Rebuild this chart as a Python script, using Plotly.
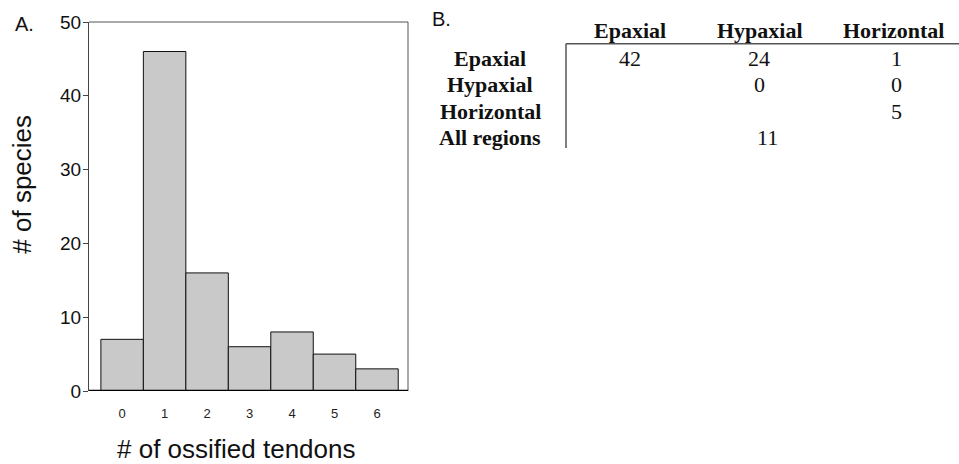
import plotly.graph_objects as go

# ---- data ----
tendon_counts = [0, 1, 2, 3, 4, 5, 6]
species_counts = [7, 46, 16, 6, 8, 5, 3]

col_headers = ["Epaxial", "Hypaxial", "Horizontal"]
row_labels = ["Epaxial", "Hypaxial", "Horizontal", "All regions"]
table_values = [
    ["42", "24", "1"],
    ["", "0", "0"],
    ["", "", "5"],
    ["", "11", ""],
]

# ---- layout geometry (pixels) ----
W, H = 959, 464
L, R, T, B = 89, 408, 19, 391  # plot area


def px(x):
    return (x - L) / (R - L)


def py(y):
    return (B - y) / (B - T)


SANS = "Liberation Sans, Arial, sans-serif"
SERIF = "Liberation Serif, Times New Roman, serif"

fig = go.Figure()
fig.add_trace(go.Bar(
    x=tendon_counts, y=species_counts, width=1,
    marker=dict(color="#c9c9c9", line=dict(color="#111111", width=1)),
    showlegend=False,
))

fig.update_layout(
    width=W, height=H,
    margin=dict(l=L, r=W - R, t=T, b=H - B, pad=0),
    plot_bgcolor="white", paper_bgcolor="white",
    xaxis=dict(range=[-0.78, 6.73], tickvals=tendon_counts,
               ticks="", showline=False, showgrid=False, zeroline=False,
               tickfont=dict(family=SANS, size=13, color="#222"),
               ticklabelstandoff=13),
    yaxis=dict(range=[0, 50], tickvals=[0, 10, 20, 30, 40, 50],
               ticks="outside", ticklen=5, tickcolor="#444", tickwidth=1,
               showline=True, linecolor="#444", linewidth=1,
               showgrid=False, zeroline=False,
               tickfont=dict(family=SANS, size=19, color="#111"),
               ticklabelstandoff=-2),
)

shapes = []
# frame top & right (thin grey)
shapes.append(dict(type="line", xref="paper", yref="paper", x0=0, x1=1, y0=1, y1=1,
                   line=dict(color="#555", width=1)))
shapes.append(dict(type="line", xref="paper", yref="paper", x0=1, x1=1, y0=0, y1=1,
                   line=dict(color="#555", width=1)))
# thick baseline
shapes.append(dict(type="line", xref="paper", yref="y", x0=0, x1=1, y0=0, y1=0,
                   line=dict(color="#000", width=2.5)))
# table lines
shapes.append(dict(type="line", xref="paper", yref="paper", x0=px(566), x1=px(959),
                   y0=py(41), y1=py(41), line=dict(color="#555", width=1.5)))
shapes.append(dict(type="line", xref="paper", yref="paper", x0=px(566), x1=px(566),
                   y0=py(41), y1=py(146), line=dict(color="#555", width=1.5)))

annotations = []


def text(x, y, s, size, family, color="#111", weight="normal", angle=0, xanchor="center"):
    annotations.append(dict(x=px(x), y=py(y), xref="paper", yref="paper", text=s,
                            showarrow=False, xanchor=xanchor, yanchor="middle",
                            textangle=angle,
                            font=dict(family=family, size=size, color=color, weight=weight)))


text(24, 21, "A.", 20, SANS)
text(236, 449, "# of ossified tendons", 26, SANS)
text(22, 183, "# of species", 26, SANS, angle=-90)

text(441, 16, "B.", 20, SANS)

col_x = [630, 760, 893]
col_val_x = [630, 759, 896]
row_y = [56, 82, 109, 135]
header_y = 28
label_x = 490
for j, h in enumerate(col_headers):
    text(col_x[j], header_y, h, 22, SERIF, weight="bold")
for i, lab in enumerate(row_labels):
    text(label_x, row_y[i], lab, 22, SERIF, weight="bold")
    for j, v in enumerate(table_values[i]):
        if v:
            xx = col_val_x[j]
            if i == len(row_labels) - 1:
                xx += 8  # "All regions" value sits slightly right of centre
            text(xx, row_y[i], v, 22, SERIF)

fig.update_layout(shapes=shapes, annotations=annotations)
fig.write_html("out.html")
